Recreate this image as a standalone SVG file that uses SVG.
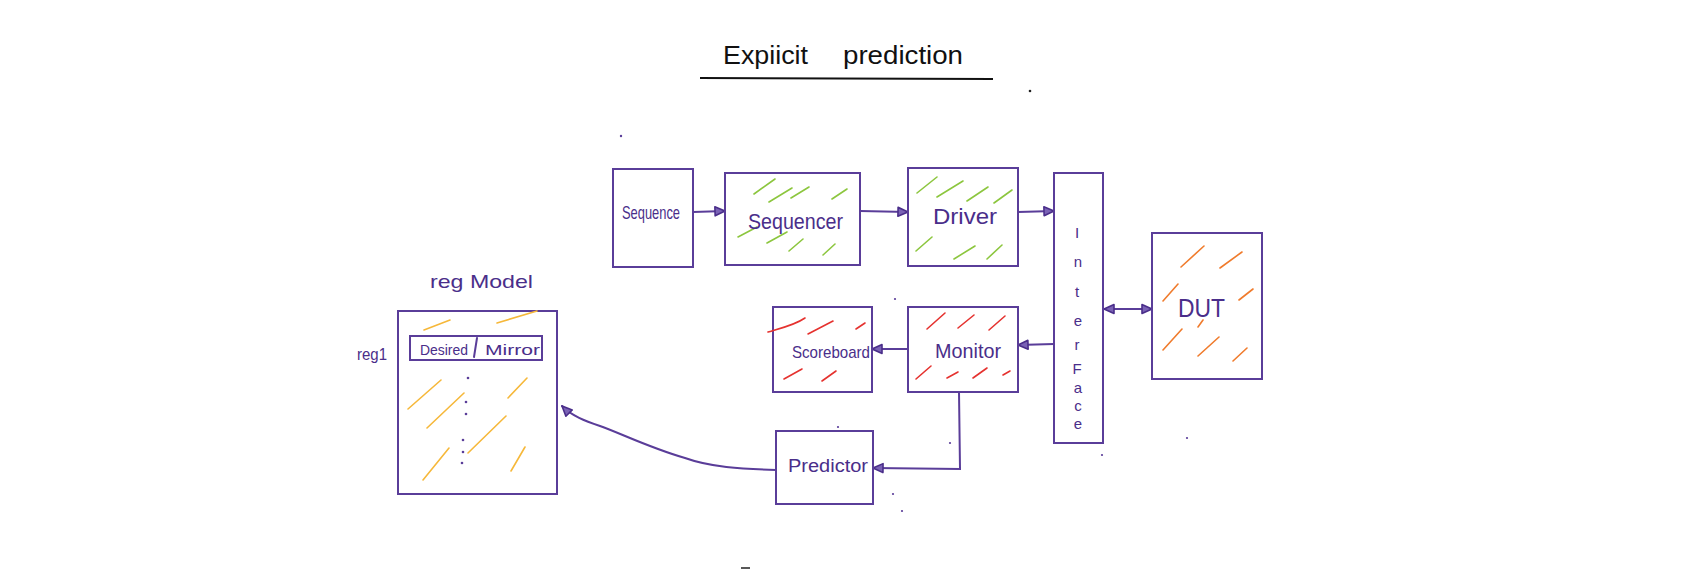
<svg xmlns="http://www.w3.org/2000/svg" width="1693" height="569" viewBox="0 0 1693 569">
<style>
.box{fill:none;stroke:#5a3d99;stroke-width:2}
.ln{fill:none;stroke:#5a3d99;stroke-width:2;stroke-linecap:round}
.t{font-family:"Liberation Sans",Arial,sans-serif;fill:#4a2e8a}
.g{stroke:#8cc63e;stroke-width:1.6;stroke-linecap:round;fill:none}
.r{stroke:#e5322f;stroke-width:1.6;stroke-linecap:round;fill:none}
.o{stroke:#f07b2c;stroke-width:1.6;stroke-linecap:round;fill:none}
.y{stroke:#f6b83a;stroke-width:1.6;stroke-linecap:round;fill:none}
.dot{fill:#5a3d99}
</style>
<defs>
<marker id="ah" viewBox="0 0 12 12" refX="11" refY="6" markerWidth="12" markerHeight="12" markerUnits="userSpaceOnUse" orient="auto-start-reverse">
<path d="M1,1.5 L11,6 L1,10.5 Z" fill="#7a62b5" stroke="#4a2e8a" stroke-width="1.6" stroke-linejoin="round"/>
</marker>
</defs>
<rect width="1693" height="569" fill="#ffffff"/>

<g id="title">
<text x="723" y="64" class="t" style="fill:#111;font-size:26px" textLength="85" lengthAdjust="spacingAndGlyphs">Expiicit</text>
<text x="843" y="64" class="t" style="fill:#111;font-size:26px" textLength="120" lengthAdjust="spacingAndGlyphs">prediction</text>
<line x1="700" y1="78" x2="993" y2="79" stroke="#111" stroke-width="2"/>
</g>

<g id="connectors">
<line class="ln" x1="693" y1="212" x2="725" y2="211" marker-end="url(#ah)"/>
<line class="ln" x1="860" y1="211" x2="908" y2="212" marker-end="url(#ah)"/>
<line class="ln" x1="1018" y1="212" x2="1054" y2="211" marker-end="url(#ah)"/>
<line class="ln" x1="1104" y1="309" x2="1152" y2="309" marker-start="url(#ah)" marker-end="url(#ah)"/>
<line class="ln" x1="1054" y1="344" x2="1018" y2="345" marker-end="url(#ah)"/>
<line class="ln" x1="908" y1="349" x2="872" y2="349" marker-end="url(#ah)"/>
<polyline class="ln" points="959,392 960,469 873,468" marker-end="url(#ah)"/>
<path class="ln" d="M776,470 C740,469 710,467 685,458 C650,448 620,433 600,426 C585,421 572,416 562,406" marker-end="url(#ah)"/>
</g>

<g id="sequence">
<rect class="box" x="613" y="169" width="80" height="98"/>
<text x="622" y="219" class="t" style="font-size:19px" textLength="58" lengthAdjust="spacingAndGlyphs">Sequence</text>
</g>

<g id="sequencer">
<rect class="box" x="725" y="173" width="135" height="92"/>
<path class="g" d="M754,194 L775,179 M769,202 L792,188 M791,198 L809,187 M832,199 L847,189 M738,237 L757,227 M767,243 L787,232 M789,251 L803,239 M823,255 L835,244"/>
<text x="748" y="229" class="t" style="font-size:22px" textLength="95" lengthAdjust="spacingAndGlyphs">Sequencer</text>
</g>

<g id="driver">
<rect class="box" x="908" y="168" width="110" height="98"/>
<path class="g" d="M917,193 L937,177 M937,197 L963,181 M967,201 L988,187 M994,203 L1012,190 M916,251 L932,237 M954,259 L975,246 M987,259 L1002,245"/>
<text x="933" y="224" class="t" style="font-size:22px" textLength="64" lengthAdjust="spacingAndGlyphs">Driver</text>
</g>

<g id="interface">
<rect class="box" x="1054" y="173" width="49" height="270"/>
<g class="t" style="font-size:15px" text-anchor="middle">
<text x="1077" y="238">I</text>
<text x="1078" y="267">n</text>
<text x="1077" y="297">t</text>
<text x="1078" y="326">e</text>
<text x="1077" y="350">r</text>
<text x="1077" y="374">F</text>
<text x="1078" y="393">a</text>
<text x="1078" y="411">c</text>
<text x="1078" y="429">e</text>
</g>
</g>

<g id="dut">
<rect class="box" x="1152" y="233" width="110" height="146"/>
<path class="o" d="M1181,267 L1204,246 M1220,268 L1242,252 M1163,301 L1178,284 M1239,300 L1253,289 M1198,327 L1203,320 M1163,350 L1182,329 M1198,356 L1219,337 M1233,361 L1247,348"/>
<text x="1178" y="317" class="t" style="font-size:26px" textLength="47" lengthAdjust="spacingAndGlyphs">DUT</text>
</g>

<g id="monitor">
<rect class="box" x="908" y="307" width="110" height="85"/>
<path class="r" d="M927,329 L945,313 M958,328 L974,315 M989,330 L1005,316 M916,379 L931,366 M947,378 L958,372 M973,378 L987,368 M1003,375 L1010,371"/>
<text x="935" y="358" class="t" style="font-size:21px" textLength="66" lengthAdjust="spacingAndGlyphs">Monitor</text>
</g>

<g id="scoreboard">
<rect class="box" x="773" y="307" width="99" height="85"/>
<path class="r" d="M768,332 C782,328 795,325 805,318 M808,334 L833,321 M856,329 L865,323 M784,379 L802,369 M822,381 L836,371"/>
<text x="792" y="358" class="t" style="font-size:17px" textLength="78" lengthAdjust="spacingAndGlyphs">Scoreboard</text>
</g>

<g id="predictor">
<rect class="box" x="776" y="431" width="97" height="73"/>
<text x="788" y="472" class="t" style="font-size:18px" textLength="80" lengthAdjust="spacingAndGlyphs">Predictor</text>
</g>

<g id="regmodel">
<text x="430" y="288" class="t" style="font-size:19px" textLength="103" lengthAdjust="spacingAndGlyphs">reg Model</text>
<text x="357" y="360" class="t" style="font-size:17px" textLength="30" lengthAdjust="spacingAndGlyphs">reg1</text>
<rect class="box" x="398" y="311" width="159" height="183"/>
<path class="y" d="M424,330 L450,320 M497,323 L537,311 M408,409 L441,380 M427,428 L464,393 M508,398 L527,378 M468,453 L506,416 M423,480 L449,448 M511,471 L525,447"/>
<rect class="box" x="410" y="336" width="132" height="24"/>
<line class="ln" x1="477" y1="338" x2="474" y2="357"/>
<text x="420" y="355" class="t" style="font-size:14px" textLength="48" lengthAdjust="spacingAndGlyphs">Desired</text>
<text x="485" y="355" class="t" style="font-size:14px" textLength="55" lengthAdjust="spacingAndGlyphs">Mirror</text>
<circle class="dot" cx="468" cy="378" r="1.3"/>
<circle class="dot" cx="466" cy="402" r="1.3"/>
<circle class="dot" cx="466" cy="414" r="1.3"/>
<circle class="dot" cx="463" cy="440" r="1.3"/>
<circle class="dot" cx="463" cy="452" r="1.3"/>
<circle class="dot" cx="462" cy="463" r="1.3"/>
</g>

<g id="specks">
<circle class="dot" cx="621" cy="136" r="1.2"/>
<circle cx="1030" cy="91" r="1.3" fill="#222"/>
<circle class="dot" cx="895" cy="299" r="1.1"/>
<circle class="dot" cx="838" cy="427" r="1.1"/>
<circle class="dot" cx="950" cy="443" r="1.1"/>
<circle class="dot" cx="893" cy="494" r="1.1"/>
<circle class="dot" cx="902" cy="511" r="1.1"/>
<circle class="dot" cx="1102" cy="455" r="1.1"/>
<circle class="dot" cx="1187" cy="438" r="1.1"/>
<path d="M741,568 L750,568" stroke="#222" stroke-width="1.5"/>
</g>
</svg>
